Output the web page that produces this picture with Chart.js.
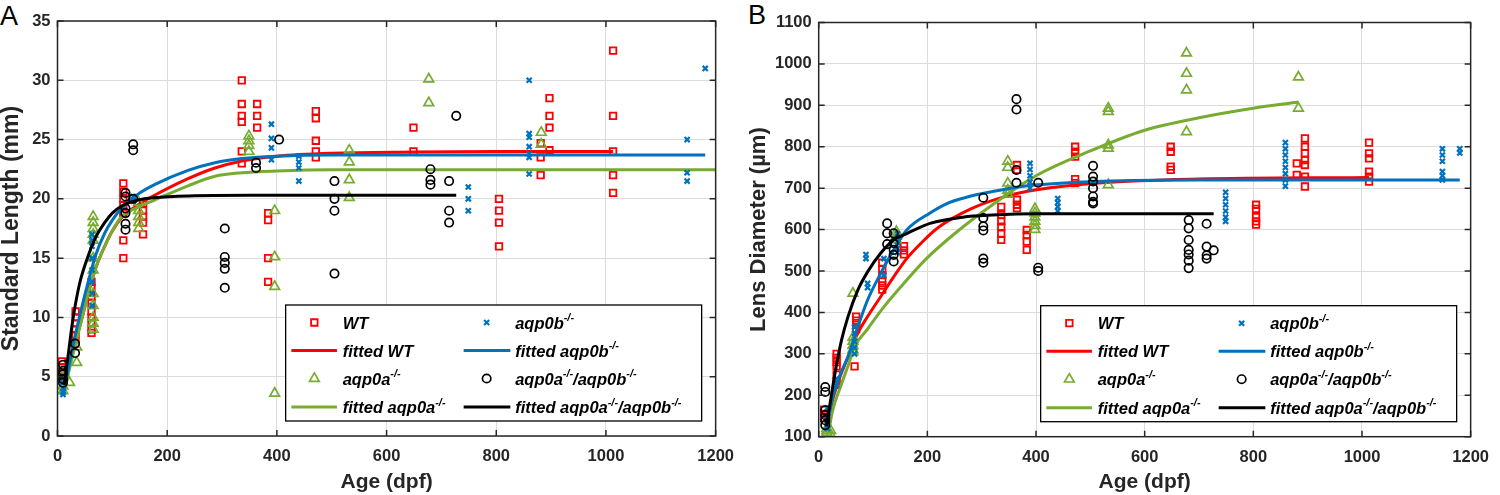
<!DOCTYPE html>
<html>
<head>
<meta charset="utf-8">
<script src="https://cdn.jsdelivr.net/npm/chart.js"></script>
<style>
  body { margin: 0; background: #fff; width: 1500px; height: 495px; overflow: hidden; position: relative; font-family: "Liberation Sans", Arial, sans-serif; }
  canvas { position: absolute; top: 0; }
  #chartA { left: 0; }
  #chartB { left: 745px; }
  .panel { position: absolute; font-size: 27px; color: #000; line-height: 1; }
</style>
</head>
<body>
<div class="panel" style="left:0px;top:3px">A</div>
<div class="panel" style="left:748px;top:2px">B</div>
<canvas id="chartA" width="745" height="495"></canvas>
<canvas id="chartB" width="755" height="495"></canvas>
<script>
// ---- Panel A: standard length (mm) vs age (dpf) ----
const slAgeWT = [8, 33, 62, 120, 156, 336, 364, 384, 471, 649, 805, 881, 897, 1013];
const slWT = [
  [6.3, 5.8, 5.3, 5.0], [10.5, 10.0, 9.5, 9.0, 8.5, 7.8], [13.0, 12.5, 11.8, 11.2, 10.5, 10.0, 9.5, 9.0, 8.7],
  [21.3, 20.6, 20.0, 19.5, 18.8, 16.5, 15.0], [19.6, 19.0, 18.5, 18.0, 17.0], [30.0, 28.0, 27.0, 26.5, 24.0, 23.0],
  [28.0, 27.0, 26.0], [18.8, 18.2, 15.0, 13.0], [27.4, 26.8, 24.9, 24.0, 23.5], [26.0, 24.0],
  [20.0, 19.0, 18.0, 16.0], [24.7, 23.5, 22.0], [28.5, 27.0, 26.0, 24.1], [32.5, 27.0, 24.0, 22.0, 20.5]
];
const slAgeA = [10, 22, 35, 65, 148, 349, 396, 532, 677, 882];
const slA = [
  [5.0, 4.2, 3.8], [4.5], [7.5, 6.2], [18.5, 18.0, 17.5, 17.0, 16.5, 15.0, 14.0, 12.0, 11.0, 10.0, 9.5, 9.0],
  [19.7, 19.0, 18.5, 18.0, 17.5], [25.3, 24.9, 24.5, 24.0], [19.0, 15.1, 12.6, 3.6], [24.1, 23.1, 21.6, 20.1],
  [30.1, 28.1], [25.6, 24.6]
];
const slAgeB = [10, 63, 138, 390, 440, 749, 860, 1148, 1181];
const slB = [
  [5.0, 4.5, 4.0, 3.7, 3.5], [17.0, 16.5, 16.0, 15.0, 14.0, 13.0, 12.0, 11.0], [20.2, 19.8],
  [26.3, 25.1, 24.3, 23.3], [23.6, 23.1, 22.6, 21.5], [21.0, 20.0, 19.0],
  [30.0, 25.5, 25.2, 24.4, 23.8, 23.5, 22.1], [25.0, 22.2, 21.5], [31.0]
];
const slAgeAB = [10, 32, 124, 138, 305, 362, 404, 505, 680, 714, 727];
const slAB = [
  [6.0, 5.5, 5.2, 4.8, 4.5], [7.8, 7.0], [20.5, 20.2, 19.2, 18.8, 17.9, 17.4], [24.6, 24.1, 20.0],
  [17.5, 15.1, 14.6, 14.1, 12.5], [23.05, 22.6], [25.0], [21.5, 20.0, 19.0, 13.7],
  [22.5, 21.6, 21.2], [21.5, 19.0, 18.0], [27.0]
];
// fitted curves
const slFitAgeWT = [12, 20, 32, 45, 56, 70, 86, 100, 117, 147, 177, 238, 287, 336, 400, 500, 650, 800, 1013];
const slFitWT = [4.0, 5.6, 7.8, 10.0, 12.0, 14.2, 16.0, 17.3, 18.4, 19.5, 20.3, 21.7, 22.6, 23.2, 23.6, 23.85, 23.95, 24.0, 24.0];
const slFitAgeA = [12, 20, 32, 45, 56, 70, 86, 100, 117, 147, 177, 238, 287, 336, 400, 500, 700, 1200];
const slFitA = [3.8, 5.3, 7.6, 10.0, 12.0, 14.2, 16.0, 17.3, 18.5, 19.3, 19.9, 21.1, 21.9, 22.2, 22.35, 22.45, 22.45, 22.45];
const slFitAgeB = [12, 20, 32, 45, 56, 70, 86, 100, 117, 147, 177, 238, 287, 336, 400, 500, 700, 1181];
const slFitB = [3.8, 5.7, 8.4, 11.0, 13.0, 15.3, 17.1, 18.2, 19.2, 20.4, 21.2, 22.4, 23.05, 23.4, 23.6, 23.7, 23.7, 23.7];
const slFitAgeAB = [12, 20, 27, 40, 56, 70, 86, 100, 117, 147, 177, 240, 350, 727];
const slFitAB = [4.3, 7.0, 9.5, 12.8, 15.2, 16.8, 18.0, 18.8, 19.4, 19.9, 20.1, 20.25, 20.3, 20.3];

// ---- Panel B: lens diameter (um) vs age (dpf) ----
const ldAgeWT = [10, 33, 66, 69, 117, 157, 336, 365, 383, 472, 648, 805, 880, 895, 1013];
const ldWT = [
  [165, 155, 145], [300, 290, 280, 270, 250, 235, 225], [270], [390, 380, 370, 360], [520, 505, 490, 475, 465, 455],
  [560, 550, 540], [655, 635, 620, 607, 590, 575], [756, 744, 672, 660, 652], [599, 587, 571, 551],
  [800, 788, 776, 722, 712], [800, 788, 752, 744], [660, 650, 630, 620, 612], [760, 732],
  [820, 800, 784, 768, 756, 728, 704], [810, 784, 772, 740, 728, 716]
];
const ldAgeA = [15, 22, 63, 143, 348, 398, 533, 677, 883];
const ldA = [
  [110, 115, 120], [105, 115], [446, 340, 330, 320, 310, 305], [595, 585, 575], [765, 750, 712, 695, 685],
  [650, 640, 630, 620, 610, 600], [893, 885, 804, 796, 708], [1026, 977, 937, 836], [968, 893]
];
const ldAgeB = [16, 33, 66, 87, 90, 120, 145, 389, 440, 749, 859, 1148, 1180];
const ldB = [
  [170, 150, 140, 130, 120], [240, 225], [365, 350, 330, 315, 300], [540, 530], [470, 460], [490, 530],
  [590, 570, 555, 545], [760, 745, 730, 715, 700], [675, 665, 655, 645], [690, 675, 660, 645, 630, 620],
  [810, 795, 780, 765, 750, 735, 720, 705], [795, 780, 765, 740, 730, 720], [795, 785]
];
const ldAgeAB = [12, 126, 138, 303, 364, 404, 505, 681, 714, 727];
const ldAB = [
  [220, 208, 164, 152, 140, 128], [615, 591, 565], [591, 567, 551, 539, 523], [677, 628, 608, 598, 530, 520],
  [915, 890, 744, 713], [713, 508, 500], [754, 728, 716, 700, 680, 667, 663],
  [623, 603, 575, 551, 540, 525, 507], [614, 559, 538, 530], [550]
];
const ldFitAgeWT = [15, 23, 38, 54, 72, 90, 114, 138, 162, 192, 220, 280, 341, 401, 522, 700, 1013];
const ldFitWT = [120, 175, 240, 293, 350, 390, 438, 486, 530, 572, 605, 650, 679, 696, 713, 722, 726];
const ldFitAgeA = [18, 25, 40, 55, 66, 90, 115, 150, 196, 250, 320, 400, 500, 600, 700, 800, 883];
const ldFitA = [108, 160, 220, 275, 317, 360, 405, 460, 527, 590, 660, 730, 790, 840, 870, 893, 908];
const ldFitAgeB = [15, 23, 38, 54, 72, 90, 114, 138, 162, 205, 240, 280, 341, 401, 522, 700, 1180];
const ldFitB = [120, 180, 245, 293, 365, 430, 494, 551, 599, 640, 665, 681, 697, 708, 717, 720, 720];
const ldFitAgeAB = [14, 18, 30, 42, 54, 72, 90, 114, 138, 163, 205, 265, 320, 400, 727];
const ldFitAB = [125, 156, 253, 333, 390, 454, 498, 543, 575, 591, 615, 630, 635, 638, 638];

const ageTicks = [0, 200, 400, 600, 800, 1000, 1200];
const slTicks = [0, 5, 10, 15, 20, 25, 30, 35];
const ldTicks = [100, 200, 300, 400, 500, 600, 700, 800, 900, 1000, 1100];

const FONT = '"Liberation Sans", Arial, Helvetica, sans-serif';
const AXIS_COLOR = '#262626';
const C_WT = '#ff0000', C_A = '#77ac30', C_B = '#0072bd', C_AB = '#000000';

Chart.defaults.font.family = FONT;
Chart.defaults.color = AXIS_COLOR;

function groupPoints(ages, vals) {
  const pts = [];
  ages.forEach((a, i) => vals[i].forEach(v => pts.push({ x: a, y: v })));
  return pts;
}

function linePoints(ages, vals) {
  return ages.map((a, i) => ({ x: a, y: vals[i] }));
}

function scatterSet(label, color, style, radius, width, data) {
  return {
    label, data, showLine: false,
    pointStyle: style, pointRadius: radius, pointBorderWidth: width,
    pointBorderColor: color, pointBackgroundColor: 'rgba(0,0,0,0)',
    borderColor: color
  };
}

function fitSet(label, color, data) {
  return {
    label, data, showLine: true, pointRadius: 0, borderWidth: 3,
    borderColor: color, cubicInterpolationMode: 'monotone', fill: false
  };
}

// rich text with ^{...} superscripts
function drawRich(ctx, text, x, y, size) {
  const parts = text.split(/(\^\{[^}]*\})/).filter(s => s.length);
  let cx = x;
  parts.forEach(p => {
    const sup = p.startsWith('^{');
    const t = sup ? p.slice(2, -1) : p;
    const fs = sup ? size * 0.66 : size;
    ctx.font = `italic bold ${fs}px ${FONT}`;
    ctx.fillText(t, cx, sup ? y - size * 0.45 : y);
    cx += ctx.measureText(t).width;
  });
}

function drawMarker(ctx, style, r, x, y) {
  if (style === 'rect') {
    const s = r * Math.SQRT1_2;
    ctx.rect(x - s, y - s, 2 * s, 2 * s);
  } else if (style === 'triangle') {
    ctx.moveTo(x, y - r);
    ctx.lineTo(x + r * Math.sin(2 * Math.PI / 3), y - r * Math.cos(2 * Math.PI / 3));
    ctx.lineTo(x + r * Math.sin(4 * Math.PI / 3), y - r * Math.cos(4 * Math.PI / 3));
    ctx.closePath();
  } else if (style === 'circle') {
    ctx.arc(x, y, r, 0, Math.PI * 2);
  } else if (style === 'crossRot') {
    const d = r * Math.SQRT1_2;
    ctx.moveTo(x - d, y - d); ctx.lineTo(x + d, y + d);
    ctx.moveTo(x - d, y + d); ctx.lineTo(x + d, y - d);
  }
}

const framePlugin = {
  id: 'frame',
  afterDatasetsDraw(chart) {
    const { ctx, chartArea: a, scales: { x, y } } = chart;
    ctx.save();
    ctx.strokeStyle = AXIS_COLOR;
    ctx.lineWidth = 1.5;
    ctx.strokeRect(a.left, a.top, a.right - a.left, a.bottom - a.top);
    ctx.beginPath();
    x.ticks.forEach((t, i) => {
      const px = x.getPixelForTick(i);
      ctx.moveTo(px, a.bottom); ctx.lineTo(px, a.bottom - 6);
      ctx.moveTo(px, a.top); ctx.lineTo(px, a.top + 6);
    });
    y.ticks.forEach((t, i) => {
      const py = y.getPixelForTick(i);
      ctx.moveTo(a.left, py); ctx.lineTo(a.left + 6, py);
      ctx.moveTo(a.right, py); ctx.lineTo(a.right - 6, py);
    });
    ctx.stroke();
    ctx.restore();
  }
};

const legendPlugin = {
  id: 'boxLegend',
  afterDraw(chart) {
    const { ctx, chartArea: a } = chart;
    const w = 416, h = 116;
    const left = a.right - 14 - w, top = a.bottom - 15 - h;
    ctx.save();
    ctx.fillStyle = '#fff';
    ctx.fillRect(left, top, w, h);
    ctx.strokeStyle = '#000';
    ctx.lineWidth = 1.3;
    ctx.strokeRect(left, top, w, h);
    const rows = [17.5, 45.5, 73.5, 102];
    const cols = [{ sym: 28.7, l0: 5.7, l1: 51.3, text: 57 }, { sym: 201, l0: 178, l1: 224.7, text: 229.5 }];
    chart.data.datasets.forEach((ds, i) => {
      const c = cols[Math.floor(i / 4)];
      const cy = top + rows[i % 4];
      if (ds.showLine) {
        ctx.strokeStyle = ds.borderColor;
        ctx.lineWidth = 3;
        ctx.beginPath();
        ctx.moveTo(left + c.l0, cy); ctx.lineTo(left + c.l1, cy);
        ctx.stroke();
      } else {
        ctx.strokeStyle = ds.pointBorderColor;
        ctx.lineWidth = ds.pointBorderWidth;
        ctx.beginPath();
        drawMarker(ctx, ds.pointStyle, ds.pointRadius, left + c.sym, cy);
        ctx.stroke();
      }
      ctx.fillStyle = '#000';
      ctx.textBaseline = 'alphabetic';
      drawRich(ctx, ds.legendText, left + c.text, cy + 6, 16.5);
    });
    ctx.restore();
  }
};

function buildDatasets(p) {
  const sets = [
    scatterSet('WT', C_WT, 'rect', 4.6, 1.8, groupPoints(p.ageWT, p.wt)),
    fitSet('fitted WT', C_WT, linePoints(p.fitAgeWT, p.fitWT)),
    scatterSet('aqp0a-/-', C_A, 'triangle', 5.6, 1.7, groupPoints(p.ageA, p.a)),
    fitSet('fitted aqp0a-/-', C_A, linePoints(p.fitAgeA, p.fitA)),
    scatterSet('aqp0b-/-', C_B, 'crossRot', 3.6, 2.2, groupPoints(p.ageB, p.b)),
    fitSet('fitted aqp0b-/-', C_B, linePoints(p.fitAgeB, p.fitB)),
    scatterSet('aqp0a-/-/aqp0b-/-', C_AB, 'circle', 4.2, 1.7, groupPoints(p.ageAB, p.ab)),
    fitSet('fitted aqp0a-/-/aqp0b-/-', C_AB, linePoints(p.fitAgeAB, p.fitAB))
  ];
  const texts = ['WT', 'fitted WT', 'aqp0a^{-/-}', 'fitted aqp0a^{-/-}', 'aqp0b^{-/-}', 'fitted aqp0b^{-/-}',
    'aqp0a^{-/-}/aqp0b^{-/-}', 'fitted aqp0a^{-/-}/aqp0b^{-/-}'];
  sets.forEach((s, i) => { s.legendText = texts[i]; s.order = sets.length - i; });
  return sets;
}

function makePanel(id, p) {
  new Chart(document.getElementById(id), {
    type: 'scatter',
    data: { datasets: buildDatasets(p) },
    options: {
      responsive: false,
      animation: false,
      events: [],
      layout: { padding: p.pad },
      plugins: { legend: { display: false }, tooltip: { enabled: false } },
      scales: {
        x: {
          type: 'linear', min: 0, max: 1200,
          afterBuildTicks: s => { s.ticks = ageTicks.map(v => ({ value: v })); },
          afterFit: s => { s.height = p.xAxisH; },
          grid: { color: '#dcdcdc', lineWidth: 1, drawTicks: false },
          border: { display: false },
          ticks: { padding: 11, maxRotation: 0, autoSkip: false, color: AXIS_COLOR,
            font: { size: 16.5, weight: 'bold' }, callback: v => String(v) },
          title: { display: true, text: 'Age (dpf)', color: AXIS_COLOR, padding: { top: 0, bottom: 0 },
            font: { size: 21, weight: 'bold', lineHeight: 1.2 } }
        },
        y: {
          type: 'linear', min: p.yMin, max: p.yMax,
          afterBuildTicks: s => { s.ticks = p.yTicks.map(v => ({ value: v })); },
          afterFit: s => { s.width = p.yAxisW; },
          grid: { color: '#dcdcdc', lineWidth: 1, drawTicks: false },
          border: { display: false },
          ticks: { padding: 7, autoSkip: false, color: AXIS_COLOR,
            font: { size: 16.5, weight: 'bold' }, callback: v => String(v) },
          title: { display: true, text: p.yTitle, color: AXIS_COLOR, padding: { top: p.yTitlePad, bottom: 0 },
            font: { size: p.yTitleSize, weight: 'bold', lineHeight: 1 } }
        }
      }
    },
    plugins: [framePlugin, legendPlugin]
  });
}

makePanel('chartA', {
  ageWT: slAgeWT, wt: slWT, ageA: slAgeA, a: slA, ageB: slAgeB, b: slB, ageAB: slAgeAB, ab: slAB,
  fitAgeWT: slFitAgeWT, fitWT: slFitWT, fitAgeA: slFitAgeA, fitA: slFitA,
  fitAgeB: slFitAgeB, fitB: slFitB, fitAgeAB: slFitAgeAB, fitAB: slFitAB,
  yMin: 0, yMax: 35, yTicks: slTicks, yTitle: 'Standard Length (mm)', yTitleSize: 23, yTitlePad: 0,
  pad: { left: 0, right: 28, top: 21, bottom: 0 }, yAxisW: 57.5, xAxisH: 59
});

makePanel('chartB', {
  ageWT: ldAgeWT, wt: ldWT, ageA: ldAgeA, a: ldA, ageB: ldAgeB, b: ldB, ageAB: ldAgeAB, ab: ldAB,
  fitAgeWT: ldFitAgeWT, fitWT: ldFitWT, fitAgeA: ldFitAgeA, fitA: ldFitA,
  fitAgeB: ldFitAgeB, fitB: ldFitB, fitAgeAB: ldFitAgeAB, fitAB: ldFitAB,
  yMin: 100, yMax: 1100, yTicks: ldTicks, yTitle: 'Lens Diameter (µm)', yTitleSize: 22, yTitlePad: 3,
  pad: { left: 0, right: 19.3, top: 22.5, bottom: 0 }, yAxisW: 73.7, xAxisH: 58.3
});
</script>
</body>
</html>
